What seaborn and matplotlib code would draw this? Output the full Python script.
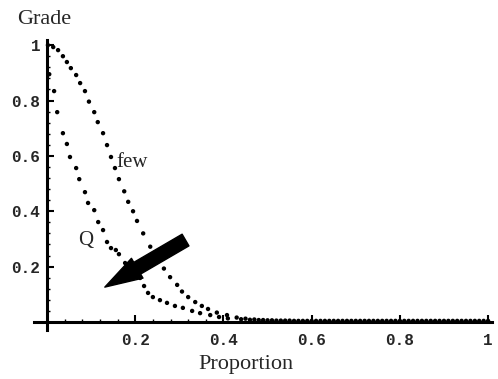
import matplotlib
matplotlib.use("Agg")
import matplotlib.pyplot as plt
import seaborn as sns
import pandas as pd
from matplotlib.ticker import MultipleLocator, FixedLocator

# ---- data ----
few_x = [0.002, 0.014, 0.025, 0.036, 0.045, 0.054, 0.066, 0.075, 0.086, 0.095,
         0.107, 0.115, 0.127, 0.136, 0.145, 0.154, 0.163, 0.175, 0.184, 0.195,
         0.204, 0.218, 0.234, 0.249, 0.265, 0.279, 0.295, 0.306, 0.320, 0.336,
         0.351, 0.365, 0.385, 0.408]
few_y = [1.000, 0.993, 0.982, 0.960, 0.939, 0.917, 0.892, 0.863, 0.834, 0.796,
         0.758, 0.722, 0.682, 0.639, 0.596, 0.556, 0.516, 0.472, 0.434, 0.400,
         0.365, 0.320, 0.272, 0.232, 0.193, 0.162, 0.134, 0.110, 0.090, 0.072,
         0.058, 0.047, 0.034, 0.025]
q_x = [0.005, 0.016, 0.023, 0.036, 0.045, 0.052, 0.066, 0.073, 0.086, 0.093,
       0.107, 0.116, 0.127, 0.136, 0.145, 0.156, 0.163, 0.177, 0.188, 0.202,
       0.211, 0.220, 0.229, 0.240, 0.256, 0.272, 0.290, 0.308, 0.329, 0.347,
       0.370]
q_y = [0.895, 0.834, 0.758, 0.682, 0.643, 0.596, 0.556, 0.516, 0.469, 0.430,
       0.404, 0.361, 0.332, 0.289, 0.267, 0.260, 0.245, 0.213, 0.195, 0.170,
       0.159, 0.130, 0.105, 0.090, 0.079, 0.069, 0.058, 0.051, 0.040, 0.032,
       0.025]
tail_few_x = [0.43, 0.45, 0.47, 0.49, 0.51, 0.53, 0.55, 0.57, 0.59, 0.61,
              0.63, 0.65, 0.67, 0.69, 0.71, 0.73, 0.75, 0.77, 0.79, 0.81,
              0.83, 0.85, 0.87, 0.89, 0.91, 0.93, 0.95, 0.97, 0.99]
tail_few_y = [0.016, 0.012, 0.009, 0.007, 0.006, 0.005, 0.005, 0.004, 0.004, 0.004,
              0.004, 0.004, 0.004, 0.004, 0.004, 0.004, 0.004, 0.004, 0.004, 0.004,
              0.004, 0.004, 0.004, 0.004, 0.004, 0.004, 0.004, 0.004, 0.004]
tail_q_x = [0.39, 0.41, 0.44, 0.46, 0.48, 0.50, 0.52, 0.54, 0.56, 0.58,
            0.60, 0.62, 0.64, 0.66, 0.68, 0.70, 0.72, 0.74, 0.76, 0.78,
            0.80, 0.82, 0.84, 0.86, 0.88, 0.90, 0.92, 0.94, 0.96, 0.98, 1.00]
tail_q_y = [0.018, 0.013, 0.010, 0.008, 0.007, 0.006, 0.005, 0.005, 0.004, 0.004,
            0.004, 0.004, 0.004, 0.004, 0.004, 0.004, 0.004, 0.004, 0.004, 0.004,
            0.004, 0.004, 0.004, 0.004, 0.004, 0.004, 0.004, 0.004, 0.004, 0.004, 0.004]
tick_vals = [0.2, 0.4, 0.6, 0.8, 1.0]
tick_labels = ["0.2", "0.4", "0.6", "0.8", "1"]

df = pd.DataFrame({
    "Proportion": few_x + tail_few_x + q_x + tail_q_x,
    "Grade": few_y + tail_few_y + q_y + tail_q_y,
})

sns.set_style("white")
plt.rcParams["font.family"] = ["Liberation Serif", "DejaVu Serif"]

fig = plt.figure(figsize=(4.98, 3.79), dpi=100)
ax = fig.add_axes([0.0679, 0.1285, 0.921, 0.767])

sns.scatterplot(data=df, x="Proportion", y="Grade", ax=ax, s=10, marker="o",
                color="black", edgecolor="none", linewidth=0)

ax.set_xlim(-0.03, 1.01)
ax.set_ylim(-0.03, 1.02)
for s in ["top", "right"]:
    ax.spines[s].set_visible(False)
ax.spines["left"].set_position(("data", 0))
ax.spines["bottom"].set_position(("data", 0))
for s in ["left", "bottom"]:
    ax.spines[s].set_linewidth(2.2)
    ax.spines[s].set_color("black")

ax.xaxis.set_major_locator(FixedLocator(tick_vals))
ax.yaxis.set_major_locator(FixedLocator(tick_vals))
ax.set_xticklabels(tick_labels)
ax.set_yticklabels(tick_labels)
ax.xaxis.set_minor_locator(MultipleLocator(0.04))
ax.yaxis.set_minor_locator(MultipleLocator(0.04))
ax.tick_params(which="major", direction="in", length=5, width=1.5, color="black",
               bottom=True, left=True, pad=8)
ax.tick_params(which="minor", direction="in", length=2.5, width=1.0, color="black",
               bottom=True, left=True)
for lab in ax.get_xticklabels() + ax.get_yticklabels():
    lab.set_fontfamily("Liberation Mono")
    lab.set_fontweight("bold")
    lab.set_fontsize(11.5)
ax.tick_params(axis="y", pad=5)
ax.set_xlabel("")
ax.set_ylabel("")

fig.text(44 / 498, 1 - 19 / 379, "Grade", ha="center", va="center", fontsize=16)
fig.text(246 / 498, 1 - 364 / 379, "Proportion", ha="center", va="center", fontsize=16)

ax.text(0.158, 0.575, "few", fontsize=15, ha="left", va="center")
ax.text(0.070, 0.296, "Q", fontsize=15, ha="left", va="center")

ax.annotate("", xy=(0.131, 0.126), xytext=(0.314, 0.296),
            arrowprops=dict(arrowstyle="simple,head_width=1.1,head_length=1.8,tail_width=0.65",
                            color="black", mutation_scale=15, shrinkA=0, shrinkB=0))

fig.savefig("out.png", dpi=100, facecolor="white")
